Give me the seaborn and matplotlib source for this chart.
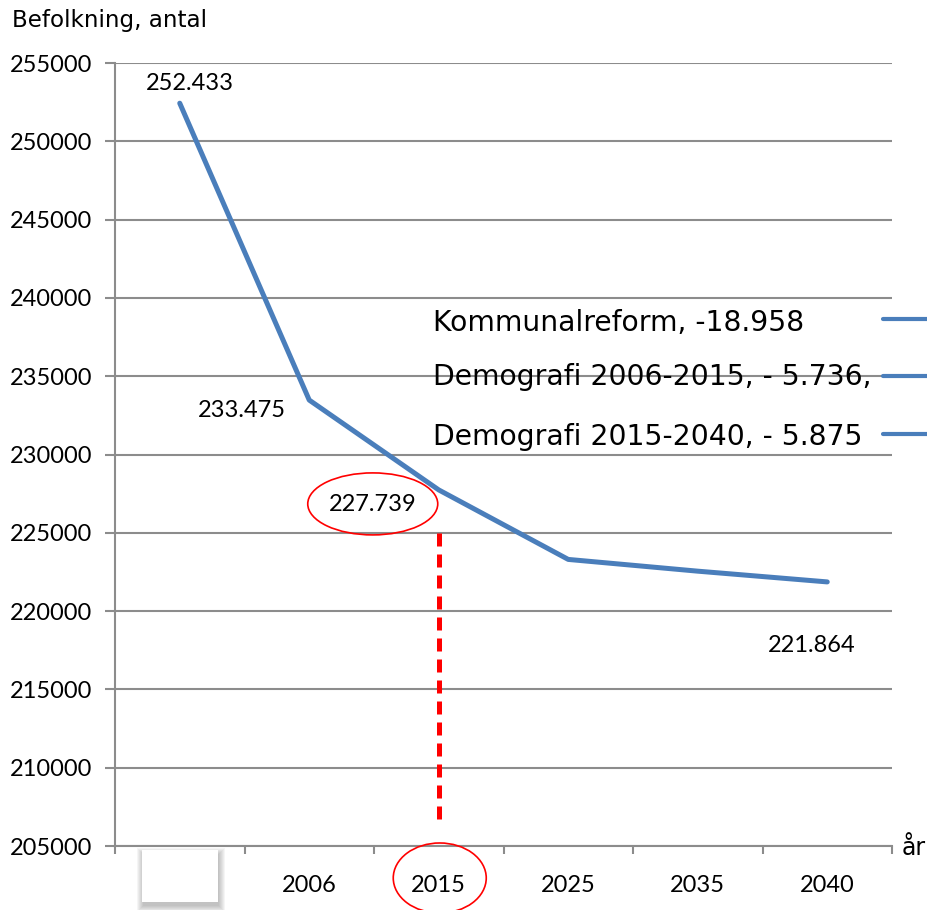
import numpy as np
import pandas as pd
import matplotlib.pyplot as plt
import matplotlib.transforms as mtransforms
from matplotlib.patches import Ellipse, Rectangle
from matplotlib.lines import Line2D
import seaborn as sns

# chart data
years = ["", "2006", "2015", "2025", "2035", "2040"]
population = [252433, 233475, 227739, 223300, 222550, 221864]
point_labels = ["252.433", "233.475", "227.739", "", "", "221.864"]
# label offsets from the point, in pixels
label_offsets = [(10, 20), (-67, -10), (-66, -15), (0, 0), (0, 0), (-16, -64)]
legend_texts = ["Kommunalreform, -18.958",
                "Demografi 2006-2015, - 5.736,",
                "Demografi 2015-2040, - 5.875"]
y_ticks = list(range(205000, 255001, 5000))
marker_year = "2015"
dash_top, dash_bottom = 225000, 206700

LINE_BLUE = "#4A7EBB"
GRID = "#8C8C8C"
NUM_FONT = "Lato"

sns.set_style("white")
plt.rcParams['font.family'] = ['DejaVu Sans']
plt.rcParams['text.color'] = 'black'
plt.rcParams['xtick.labelcolor'] = 'black'
plt.rcParams['ytick.labelcolor'] = 'black'

W, H = 927, 910
fig = plt.figure(figsize=(W / 100, H / 100), dpi=100)
ax = fig.add_axes([115 / W, (H - 846) / H, (892 - 115) / W, (846 - 63) / H])

df = pd.DataFrame({"pos": np.arange(len(years)), "population": population})
sns.lineplot(data=df, x="pos", y="population", ax=ax, color=LINE_BLUE,
             linewidth=3.6, solid_capstyle="round", zorder=3)

ax.set_xlim(-0.5, len(years) - 0.5)
ax.set_ylim(y_ticks[0], y_ticks[-1])
ax.set_xlabel("")
ax.set_ylabel("")

# y axis
ax.set_yticks(y_ticks)
ax.set_yticklabels([str(t) for t in y_ticks], fontfamily=NUM_FONT, fontsize=17, color="black")
ax.yaxis.grid(True, color=GRID, linewidth=1.5)
ax.tick_params(axis="y", direction="out", length=7.5, width=1.5, color=GRID, pad=9, left=True)

# x axis: labels at centers, ticks at boundaries
ax.set_xticks(np.arange(len(years)))
ax.set_xticklabels(years, fontfamily=NUM_FONT, fontsize=17, color="black")
ax.set_xticks(np.arange(len(years) + 1) - 0.5, minor=True)
ax.tick_params(axis="x", which="major", length=0, pad=21)
ax.tick_params(axis="x", which="minor", direction="out", length=6, width=1.5, color=GRID, bottom=True)
ax.xaxis.grid(False)

for side in ["top", "right"]:
    ax.spines[side].set_visible(False)
for side in ["left", "bottom"]:
    ax.spines[side].set_color(GRID)
    ax.spines[side].set_linewidth(1.5)

# point labels
for i, (lab, off) in enumerate(zip(point_labels, label_offsets)):
    if lab:
        ax.annotate(lab, (i, population[i]), xytext=off, textcoords="offset pixels",
                    ha="center", va="center", fontfamily=NUM_FONT, fontsize=17, color="black")

# red dashed marker line at 2015
mi = years.index(marker_year)
ax.plot([mi, mi], [dash_top, dash_bottom], color="red", linewidth=3.6,
        dashes=(2.6, 1.6), zorder=4)

# red ellipses (pixel coordinates)
fig.canvas.draw()
ident = mtransforms.IdentityTransform()
px, py = ax.transData.transform((mi, population[mi]))
fig.add_artist(Ellipse((px - 66, py - 14), 130, 62, fill=False, edgecolor="red",
                       linewidth=1.2, transform=ident))
bx, by = ax.transData.transform((mi, y_ticks[0]))
fig.add_artist(Ellipse((bx + 1, by - 32), 93, 70, fill=False, edgecolor="red",
                       linewidth=1.2, transform=ident, clip_on=False))

# white box with soft shadow over first category label
box_x, box_y, box_w, box_h = 142, H - 902, 76, 52
for grow in range(6, -1, -1):
    fig.add_artist(Rectangle((box_x + 1 - grow, box_y - 4 - grow), box_w + 2 * grow, box_h + 2 * grow,
                             facecolor="#404040", edgecolor="none", alpha=0.05, transform=ident))
fig.add_artist(Rectangle((box_x, box_y), box_w, box_h, facecolor="white",
                         edgecolor="none", transform=ident))

# legend-like text block with line handles cut at the right edge
for txt, ty, ly in zip(legend_texts, [323, 377, 437], [319, 376, 434]):
    fig.text(433 / W, 1 - ty / H, txt, ha="left", va="center", fontsize=20.3)
    fig.add_artist(Line2D([883 / W, 1.0], [1 - ly / H, 1 - ly / H], color=LINE_BLUE,
                          linewidth=3, transform=fig.transFigure))

fig.text(12 / W, 1 - 20 / H, "Befolkning, antal", ha="left", va="center", fontsize=16.6)
fig.text(902 / W, 1 - 848 / H, "år", ha="left", va="center", fontsize=17)

fig.savefig("out.png", dpi=100)
